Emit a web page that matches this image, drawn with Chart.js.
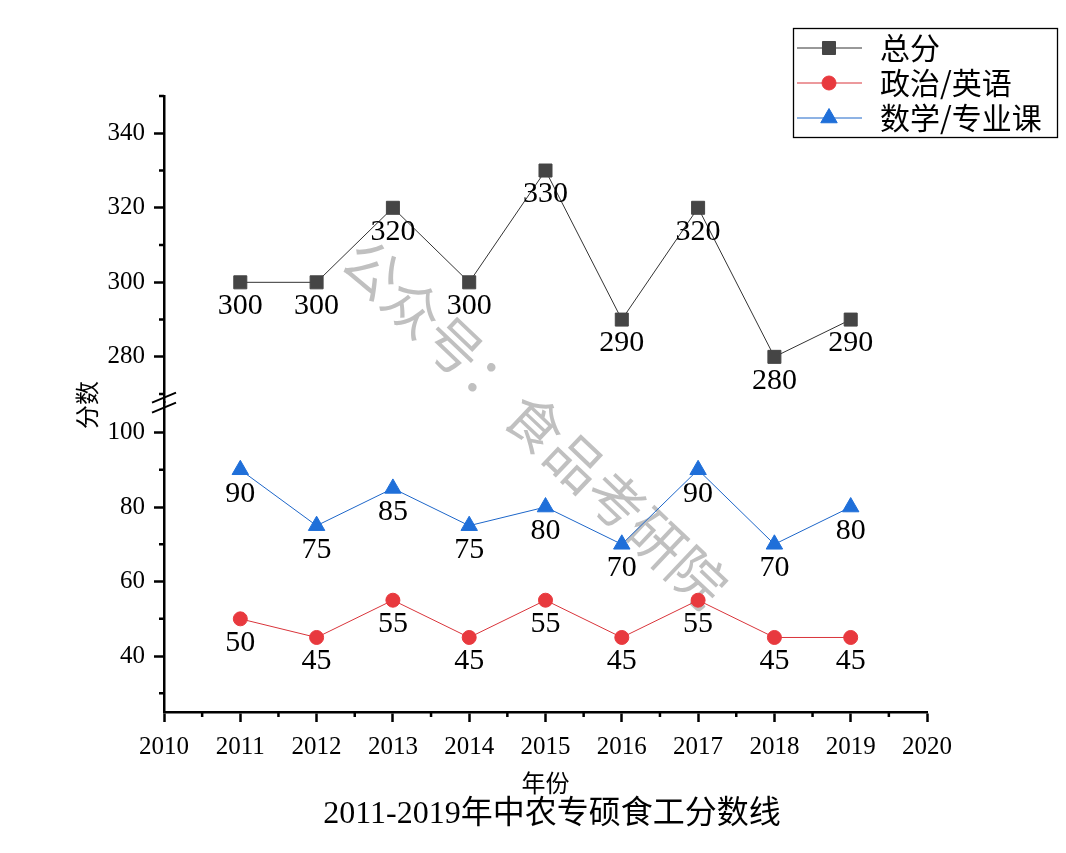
<!DOCTYPE html>
<html>
<head>
<meta charset="utf-8">
<script src="https://cdn.jsdelivr.net/npm/chart.js@4/dist/chart.umd.min.js"></script>
<style>
  body { margin: 0; background: #fff; }
</style>
</head>
<body>
<canvas id="c" width="1066" height="853"></canvas>
<script>
var years = [2011, 2012, 2013, 2014, 2015, 2016, 2017, 2018, 2019];
var totalScores = [300, 300, 320, 300, 330, 290, 320, 280, 290];
var politicsEnglish = [50, 45, 55, 45, 55, 45, 55, 45, 45];
var mathMajor = [90, 75, 85, 75, 80, 70, 90, 70, 80];

var yearTicks = [2010, 2011, 2012, 2013, 2014, 2015, 2016, 2017, 2018, 2019, 2020];
var upperTicks = [280, 300, 320, 340];
var lowerTicks = [40, 60, 80, 100];

var chartTitle = '2011-2019年中农专硕食工分数线';

var serif = "'Liberation Serif', 'Noto Sans CJK SC', serif";
var cjk = "'Noto Sans CJK SC', sans-serif";

function pairs(vals) {
  return years.map(function (y, i) { return { x: y, y: vals[i] }; });
}

function setTicks(list) {
  return function (scale) {
    scale.ticks = list.map(function (v) { return { value: v }; });
  };
}

var axisBorder = { color: '#000', width: 2.5 };
var axisGrid = { drawOnChartArea: false, tickLength: 10, tickWidth: 2.5, tickColor: '#000' };

// value labels under each point
var valueLabels = {
  id: 'valueLabels',
  afterDatasetsDraw: function (chart) {
    var ctx = chart.ctx;
    ctx.save();
    ctx.font = '30px ' + serif;
    ctx.fillStyle = '#000';
    ctx.textAlign = 'center';
    ctx.textBaseline = 'middle';
    chart.data.datasets.forEach(function (ds, i) {
      chart.getDatasetMeta(i).data.forEach(function (pt, j) {
        ctx.fillText(String(ds.data[j].y), pt.x, pt.y + 24);
      });
    });
    ctx.restore();
  }
};

// watermark
var watermark = {
  id: 'watermark',
  beforeDatasetsDraw: function (chart) {
    var ctx = chart.ctx;
    ctx.save();
    ctx.translate(535, 423);
    ctx.rotate(43.5 * Math.PI / 180);
    ctx.font = '56px ' + cjk;
    ctx.fillStyle = 'rgba(130,130,130,0.5)';
    ctx.textAlign = 'center';
    ctx.textBaseline = 'middle';
    ctx.fillText('公众号：食品考研院', 0, 0);
    ctx.restore();
  }
};

// minor ticks, axis break, titles, legend
var extras = {
  id: 'extras',
  afterDraw: function (chart) {
    var ctx = chart.ctx;
    var xs = chart.scales.x, yHi = chart.scales.yHigh, yLo = chart.scales.yLow;
    var left = chart.chartArea.left, bottom = chart.chartArea.bottom;
    ctx.save();
    ctx.strokeStyle = '#000';
    ctx.lineWidth = 2.5;
    ctx.beginPath();
    for (var k = 0; k < yearTicks.length - 1; k++) {
      var px = xs.getPixelForValue(yearTicks[k] + 0.5);
      ctx.moveTo(px, bottom);
      ctx.lineTo(px, bottom + 5);
    }
    [270, 290, 310, 330, 350].forEach(function (v) {
      var py = yHi.getPixelForValue(v);
      ctx.moveTo(left - 5, py);
      ctx.lineTo(left, py);
    });
    [30, 50, 70, 90].forEach(function (v) {
      var py = yLo.getPixelForValue(v);
      ctx.moveTo(left - 5, py);
      ctx.lineTo(left, py);
    });
    ctx.stroke();

    // break marks
    var by = yHi.bottom;
    ctx.lineWidth = 2;
    ctx.beginPath();
    ctx.moveTo(left - 12, by);
    ctx.lineTo(left + 12, by - 10);
    ctx.moveTo(left - 12, by + 10);
    ctx.lineTo(left + 12, by);
    ctx.stroke();

    // chart title
    ctx.fillStyle = '#000';
    ctx.textAlign = 'center';
    ctx.textBaseline = 'middle';
    ctx.font = '32px ' + serif;
    ctx.fillText(chartTitle, 552, 815);

    // y axis title
    ctx.font = '24px ' + cjk;
    ctx.translate(87, 405);
    ctx.rotate(-Math.PI / 2);
    ctx.fillText('分数', 0, 0);
    ctx.restore();

    // legend
    ctx.save();
    ctx.strokeStyle = '#000';
    ctx.lineWidth = 1.3;
    ctx.strokeRect(793.5, 28.5, 264, 109);
    ctx.font = '30px ' + cjk;
    ctx.textAlign = 'left';
    ctx.textBaseline = 'middle';
    chart.data.datasets.forEach(function (ds, i) {
      var ly = 48 + i * 35;
      ctx.strokeStyle = ds.borderColor;
      ctx.lineWidth = 1;
      ctx.beginPath();
      ctx.moveTo(797, ly);
      ctx.lineTo(862, ly);
      ctx.stroke();
      ctx.fillStyle = ds.pointBackgroundColor;
      ctx.strokeStyle = ds.pointBackgroundColor;
      Chart.helpers.drawPoint(ctx, { pointStyle: ds.pointStyle, radius: ds.pointRadius, rotation: 0, borderWidth: 1 }, 829, ly);
      ctx.fillStyle = '#000';
      ctx.fillText(ds.label, 880, ly);
    });
    ctx.restore();
  }
};

new Chart(document.getElementById('c'), {
  type: 'line',
  data: {
    datasets: [{
      label: '总分',
      data: pairs(totalScores),
      yAxisID: 'yHigh',
      borderColor: '#333',
      borderWidth: 1,
      pointStyle: 'rect',
      pointRadius: 9.2,
      pointBackgroundColor: '#454545',
      pointBorderColor: '#454545'
    }, {
      label: '政治/英语',
      data: pairs(politicsEnglish),
      yAxisID: 'yLow',
      borderColor: '#d9343a',
      borderWidth: 1,
      pointStyle: 'circle',
      pointRadius: 7,
      pointBackgroundColor: '#e8393e',
      pointBorderColor: '#e8393e'
    }, {
      label: '数学/专业课',
      data: pairs(mathMajor),
      yAxisID: 'yLow',
      borderColor: '#1d66c9',
      borderWidth: 1,
      pointStyle: 'triangle',
      pointRadius: 9.5,
      pointBackgroundColor: '#1f6fd9',
      pointBorderColor: '#1f6fd9'
    }]
  },
  options: {
    responsive: false,
    devicePixelRatio: 1,
    animation: false,
    layout: { padding: { left: 0, right: 139, top: 96, bottom: 56 } },
    plugins: {
      legend: { display: false },
      tooltip: { enabled: false },
      title: { display: false }
    },
    scales: {
      x: {
        type: 'linear',
        min: 2010,
        max: 2020,
        afterBuildTicks: setTicks(yearTicks),
        afterFit: function (s) { s.height = 85; },
        border: axisBorder,
        grid: axisGrid,
        ticks: { color: '#000', padding: 10, font: { family: serif, size: 25 }, callback: function (v) { return String(v); } },
        title: { display: true, text: '年份', color: '#000', font: { family: cjk, size: 24 }, padding: { top: 0, bottom: 0 } }
      },
      yLow: {
        type: 'linear',
        position: 'left',
        stack: 'y',
        stackWeight: 83,
        min: 25,
        max: 108,
        afterBuildTicks: setTicks(lowerTicks),
        afterFit: function (s) { s.width = 164; },
        border: axisBorder,
        grid: axisGrid,
        ticks: { color: '#000', padding: 9, font: { family: serif, size: 25 } }
      },
      yHigh: {
        type: 'linear',
        position: 'left',
        stack: 'y',
        stackWeight: 82.3,
        min: 267.7,
        max: 350,
        afterBuildTicks: setTicks(upperTicks),
        afterFit: function (s) { s.width = 164; },
        border: axisBorder,
        grid: axisGrid,
        ticks: { color: '#000', padding: 9, font: { family: serif, size: 25 } }
      }
    }
  },
  plugins: [watermark, valueLabels, extras]
});
</script>
</body>
</html>
